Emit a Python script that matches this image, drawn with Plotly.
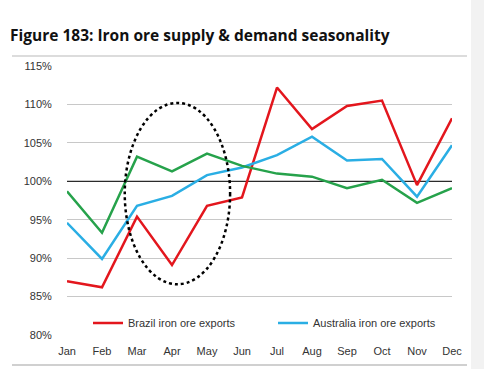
import plotly.graph_objects as go

months = ["Jan", "Feb", "Mar", "Apr", "May", "Jun", "Jul", "Aug", "Sep", "Oct", "Nov", "Dec"]
brazil = [87.0, 86.2, 95.4, 89.1, 96.8, 97.9, 112.2, 106.8, 109.8, 110.5, 99.5, 108.2]
australia = [94.6, 89.9, 96.8, 98.1, 100.8, 101.8, 103.4, 105.8, 102.7, 102.9, 98.0, 104.7]
demand = [98.7, 93.3, 103.2, 101.3, 103.6, 102.0, 101.0, 100.6, 99.1, 100.2, 97.2, 99.1]
y_ticks = [80, 85, 90, 95, 100, 105, 110, 115]
y_tick_labels = ["80%", "85%", "90%", "95%", "100%", "105%", "110%", "115%"]
title = "Figure 183: Iron ore supply & demand seasonality"

fig = go.Figure()
fig.add_trace(go.Scatter(x=months, y=brazil, mode="lines", name="Brazil iron ore exports",
                         line=dict(color="#e3161d", width=2.5)))
fig.add_trace(go.Scatter(x=months, y=australia, mode="lines", name="Australia iron ore exports",
                         line=dict(color="#2aaee4", width=2.5)))
fig.add_trace(go.Scatter(x=months, y=demand, mode="lines", name="Demand", showlegend=False,
                         line=dict(color="#26a24b", width=2.5)))

W, H = 484, 369
L, R, T, B = 67, 32, 66, 34
pw, ph = W - L - R, H - T - B

def px(x):
    return (x - L) / pw

def py(y):
    return (H - B - y) / ph

shapes = [
    dict(type="rect", xref="paper", yref="paper", x0=px(471), x1=px(484), y0=py(369), y1=py(0),
         fillcolor="#f2f2f2", line=dict(width=0), layer="below"),
    dict(type="line", xref="paper", yref="paper", x0=px(12), x1=px(467), y0=py(56), y1=py(56),
         line=dict(color="#d0d0d0", width=1.5)),
    dict(type="line", xref="paper", yref="paper", x0=px(12), x1=px(467), y0=py(365), y1=py(365),
         line=dict(color="#d0d0d0", width=2)),
    dict(type="line", xref="x", yref="y", x0=0, x1=11, y0=100, y1=100,
         line=dict(color="black", width=1), layer="between"),
    dict(type="circle", xref="x", yref="y", x0=1.65, x1=4.66, y0=86.6, y1=110.2,
         line=dict(color="black", width=2.5, dash="dot")),
]

fig.update_layout(
    width=W, height=H,
    margin=dict(l=L, r=R, t=T, b=B),
    paper_bgcolor="white", plot_bgcolor="white",
    font=dict(family="Liberation Sans, Arial", size=11, color="#333333"),
    title=dict(text="<b>" + title + "</b>", xref="container", yref="container",
               x=10 / W, y=1 - 36 / H, xanchor="left", yanchor="middle",
               font=dict(family="Open Sans", size=15.5, color="#111111")),
    xaxis=dict(range=[0, 11], showgrid=False, showline=False, zeroline=False,
               ticks="outside", ticklen=6, tickcolor="rgba(0,0,0,0)", tickfont=dict(size=11)),
    yaxis=dict(range=[80, 115], tickvals=y_ticks, ticktext=y_tick_labels,
               showgrid=True, gridcolor="#c8c8c8", gridwidth=1, zeroline=False, showline=False,
               ticks="outside", ticklen=12, tickcolor="rgba(0,0,0,0)"),
    legend=dict(orientation="h", x=px(88), y=py(323), xanchor="left", yanchor="middle",
                bgcolor="rgba(0,0,0,0)", font=dict(size=11, color="#333333"),
                entrywidth=140, entrywidthmode="pixels", tracegroupgap=0),
    shapes=shapes,
    showlegend=True,
)

fig.write_html("out.html", config={"displayModeBar": False},
               post_script="document.body.style.margin='0px';")
